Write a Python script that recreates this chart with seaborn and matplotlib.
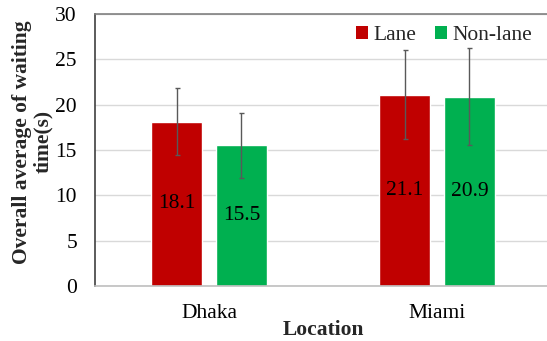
import matplotlib
matplotlib.use("Agg")
import matplotlib.pyplot as plt
import seaborn as sns
import pandas as pd
from matplotlib.patches import Patch

# Data
locations = ["Dhaka", "Miami"]
series = ["Lane", "Non-lane"]
lane_means = [18.1, 21.1]
nonlane_means = [15.5, 20.9]
lane_err = [3.7, 4.9]
nonlane_err = [3.6, 5.4]
colors = ["#C00000", "#00B050"]

df = pd.DataFrame({
    "Location": locations * 2,
    "Type": [series[0]] * 2 + [series[1]] * 2,
    "Value": lane_means + nonlane_means,
    "Err": lane_err + nonlane_err,
})

sns.set_theme(style="white")
plt.rcParams["font.family"] = ["Liberation Serif", "DejaVu Serif"]

FS = 15.5

fig = plt.figure(figsize=(5.47, 3.41), dpi=100)
ax = fig.add_axes([95 / 547, 1 - 286 / 341, 456 / 547, 272 / 341])

sns.barplot(data=df, x="Location", y="Value", hue="Type", hue_order=series,
            palette=colors, width=0.57, gap=0.21, errorbar=None,
            saturation=1, ax=ax, legend=False)

# Error bars and centred value labels for each series
for cont, errs in zip(ax.containers, [lane_err, nonlane_err]):
    xs = [p.get_x() + p.get_width() / 2 for p in cont]
    hs = [p.get_height() for p in cont]
    ax.errorbar(xs, hs, yerr=errs, fmt="none", ecolor="#595959",
                elinewidth=1.0, capsize=1.8, capthick=1.0, zorder=3)
    ax.bar_label(cont, labels=[f"{v:.1f}" for v in hs], label_type="center",
                 fontsize=FS, color="black")

ax.set_xlim(-0.5, 1.5)
ax.set_ylim(0, 30)
ax.set_yticks(range(0, 31, 5))
ax.yaxis.grid(True, color="#d9d9d9", linewidth=1.0)
ax.set_axisbelow(True)
ax.tick_params(axis="both", length=0, labelsize=FS, colors="black")
ax.tick_params(axis="y", pad=13)
ax.tick_params(axis="x", pad=13)

ax.spines["left"].set_color("#404040")
ax.spines["top"].set_color("#808080")
ax.spines["bottom"].set_color("#bfbfbf")
ax.spines["right"].set_color("#808080")
for s in ax.spines.values():
    s.set_linewidth(1.2)

ax.set_xlabel("Location", fontsize=FS, fontweight="bold", labelpad=-2)
ax.set_ylabel("Overall average of waiting\ntime(s)", fontsize=FS,
              fontweight="bold", linespacing=1.1)
ax.yaxis.set_label_coords(-0.092, 0.53)

handles = [Patch(facecolor=c, edgecolor="none") for c in colors]
ax.legend(handles, series, loc="upper right", bbox_to_anchor=(0.985, 1.0),
          ncol=2, frameon=False, fontsize=FS, handlelength=0.55,
          handleheight=0.55, handletextpad=0.25, columnspacing=0.9,
          borderaxespad=0.15)

fig.savefig("out.png", dpi=100)
